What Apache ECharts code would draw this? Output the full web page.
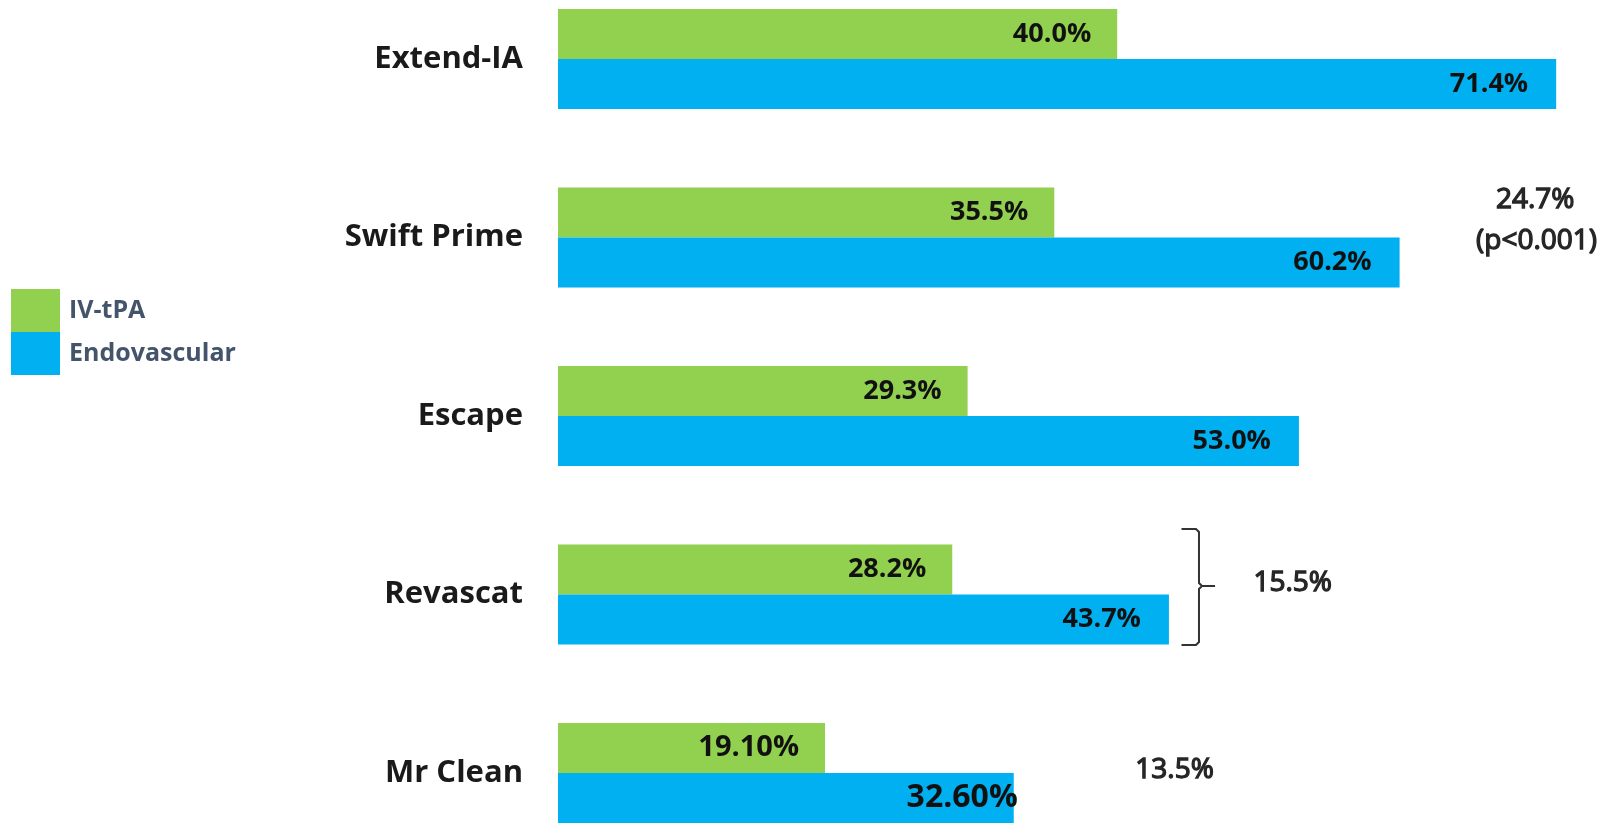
<!DOCTYPE html>
<html>
<head>
<meta charset="utf-8">
<script src="https://cdn.jsdelivr.net/npm/echarts@6/dist/echarts.min.js"></script>
<style>
html,body{margin:0;padding:0;background:#fff;}
#chart{width:1608px;height:823px;}
</style>
</head>
<body>
<div id="chart"></div>
<script>
// ---- data ----
const categories = ['Extend-IA', 'Swift Prime', 'Escape', 'Revascat', 'Mr Clean'];
const seriesNames = ['IV-tPA', 'Endovascular'];
const ivtpa = [40.0, 35.5, 29.3, 28.2, 19.1];
const endovascular = [71.4, 60.2, 53.0, 43.7, 32.6];
const ivtpaLabels = ['40.0%', '35.5%', '29.3%', '28.2%', '19.10%'];
const endoLabels = ['71.4%', '60.2%', '53.0%', '43.7%', '32.60%'];
const diffTexts = ['24.7%', '(p<0.001)', '15.5%', '13.5%'];

const GREEN = '#92D050', BLUE = '#00B0F0';
const FONT = '"Open Sans", "DejaVu Sans", sans-serif';

function mk(vals, labels, bigLast, bigSize) {
  return vals.map((v, i) => {
    const d = { value: v, labelText: labels[i] };
    if (i === vals.length - 1) {
      d.label = { fontSize: bigSize, distance: bigLast };
    }
    return d;
  });
}

const chart = echarts.init(document.getElementById('chart'), null, { renderer: 'canvas' });

const option = {
  animation: false,
  backgroundColor: '#ffffff',
  legend: {
    data: seriesNames,
    orient: 'vertical',
    left: 11,
    top: 289,
    padding: 0,
    itemWidth: 49,
    itemHeight: 43,
    itemGap: 0,
    icon: 'rect',
    textStyle: { fontFamily: FONT, fontSize: 25, fontWeight: 'bold', color: '#44546A', padding: [0, 0, 0, 4] }
  },
  grid: { left: 558, top: -30.25, width: 1048.5, height: 892.5, outerBoundsMode: 'none', containLabel: false },
  xAxis: { type: 'value', min: 0, max: 75, show: false },
  yAxis: {
    type: 'category',
    data: categories,
    inverse: true,
    axisLine: { show: false },
    axisTick: { show: false },
    splitLine: { show: false },
    axisLabel: { margin: 35, fontFamily: FONT, fontSize: 31, fontWeight: 'bold', color: '#1a1a1a' }
  },
  series: [
    {
      name: seriesNames[0], type: 'bar', barWidth: 50, barGap: '0%',
      itemStyle: { color: GREEN },
      data: mk(ivtpa, ivtpaLabels, 26, 29),
      label: {
        show: true, position: 'insideRight', distance: 26,
        fontFamily: FONT, fontSize: 27, fontWeight: 'bold', color: '#111',
        formatter: p => p.data.labelText
      }
    },
    {
      name: seriesNames[1], type: 'bar', barWidth: 50, barGap: '0%',
      itemStyle: { color: BLUE },
      data: mk(endovascular, endoLabels, -4, 32),
      label: {
        show: true, position: 'insideRight', distance: 28,
        fontFamily: FONT, fontSize: 27, fontWeight: 'bold', color: '#111',
        formatter: p => p.data.labelText
      }
    }
  ]
};
chart.setOption(option);

// ---- annotations placed through the axes ----
function px(val, cat) { return chart.convertToPixel({ gridIndex: 0 }, [val, cat]); }
const anns = [
  { text: diffTexts[0], val: 69.9, cat: categories[1], dy: -37.5 },
  { text: diffTexts[1], val: 70.0, cat: categories[1], dy: 4 },
  { text: diffTexts[2], val: 52.55, cat: categories[3], dy: -11 },
  { text: diffTexts[3], val: 44.1, cat: categories[4], dy: -3 }
];
const graphics = anns.map(a => {
  const p = px(a.val, a.cat);
  return {
    type: 'text', x: p[0], y: p[1] + a.dy,
    style: { text: a.text, fontFamily: FONT, fontSize: 28, fontWeight: 'normal', fill: '#262626',
             stroke: '#262626', lineWidth: 1.3,
             align: 'center', verticalAlign: 'middle' }
  };
});
// bracket next to Revascat
const c = px(45.85, categories[3]);
const xs = px(44.6, categories[3])[0];
const xt = px(47.0, categories[3])[0];
const yTop = c[1] - 65.5, yBot = c[1] + 50.5, yMid = c[1] - 8.5;
graphics.push({
  type: 'polyline',
  shape: { points: [[xs, yTop], [c[0] - 3, yTop], [c[0], yTop + 3], [c[0], yMid - 3], [c[0] + 3, yMid],
                    [c[0], yMid + 3], [c[0], yBot - 3], [c[0] - 3, yBot], [xs, yBot]] },
  style: { stroke: '#333', lineWidth: 2, fill: null }
});
graphics.push({
  type: 'line', shape: { x1: c[0] + 3, y1: yMid, x2: xt, y2: yMid },
  style: { stroke: '#333', lineWidth: 2 }
});
chart.setOption({ graphic: graphics });
</script>
</body>
</html>
